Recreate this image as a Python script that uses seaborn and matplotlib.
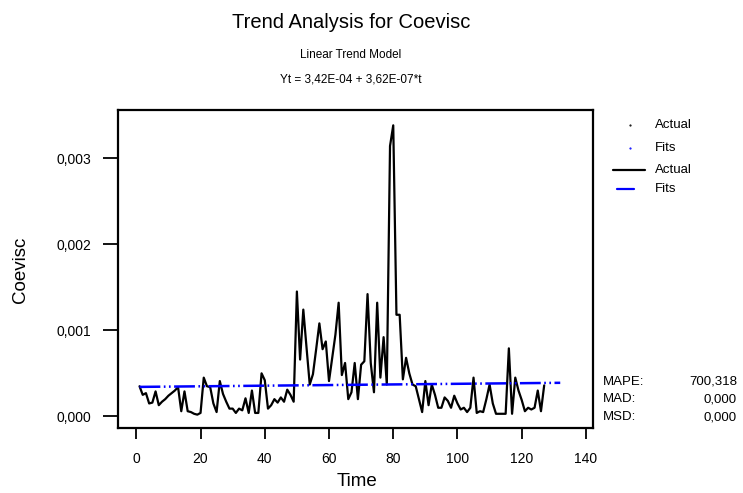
import numpy as np
import pandas as pd
import matplotlib
matplotlib.use("Agg")
import matplotlib.pyplot as plt
from matplotlib.lines import Line2D
import seaborn as sns

# Coevisc observations, in units of 1E-03
coevisc_e3 = [
    0.35, 0.25, 0.27, 0.15, 0.16, 0.29, 0.13, 0.17, 0.20, 0.24,
    0.27, 0.30, 0.34, 0.06, 0.29, 0.06, 0.05, 0.03, 0.02, 0.04,
    0.45, 0.35, 0.34, 0.15, 0.05, 0.41, 0.26, 0.17, 0.09, 0.09,
    0.04, 0.09, 0.07, 0.21, 0.04, 0.30, 0.04, 0.04, 0.50, 0.42,
    0.09, 0.13, 0.20, 0.16, 0.22, 0.17, 0.31, 0.25, 0.17, 1.45,
    0.66, 1.24, 0.80, 0.37, 0.49, 0.78, 1.08, 0.78, 0.87, 0.41,
    0.68, 0.95, 1.32, 0.48, 0.62, 0.20, 0.28, 0.62, 0.20, 0.60,
    0.64, 1.42, 0.62, 0.28, 1.32, 0.45, 0.92, 0.37, 3.14, 3.38,
    1.18, 1.18, 0.43, 0.68, 0.50, 0.37, 0.35, 0.20, 0.05, 0.41,
    0.13, 0.37, 0.25, 0.10, 0.10, 0.22, 0.18, 0.10, 0.24, 0.15,
    0.08, 0.10, 0.05, 0.10, 0.45, 0.04, 0.06, 0.05, 0.20, 0.37,
    0.15, 0.03, 0.03, 0.03, 0.03, 0.79, 0.03, 0.45, 0.30, 0.19,
    0.06, 0.10, 0.08, 0.10, 0.30, 0.06, 0.36,
]

# Linear trend model Yt = b0 + b1*t
intercept = 3.42e-04
slope = 3.62e-07
n_fit = 132

x_ticks = [0, 20, 40, 60, 80, 100, 120, 140]
y_ticks = [0.000, 0.001, 0.002, 0.003]
y_tick_labels = ["0,000", "0,001", "0,002", "0,003"]

legend_labels = ["Actual", "Fits", "Actual", "Fits"]
accuracy_names = ["MAPE:", "MAD:", "MSD:"]
accuracy_values = ["700,318", "0,000", "0,000"]

actual = pd.DataFrame({
    "Time": np.arange(1, len(coevisc_e3) + 1),
    "Coevisc": np.array(coevisc_e3) * 1e-3,
})
t_fit = np.arange(1, n_fit + 1)
fits = pd.DataFrame({"Time": t_fit, "Coevisc": intercept + slope * t_fit})

BLUE = "#0000ff"

sns.set_style("white")
plt.rcParams["font.family"] = ["Liberation Sans", "DejaVu Sans"]
plt.rcParams.update({
    "lines.scale_dashes": False,
    "text.color": "black",
    "axes.labelcolor": "black",
    "xtick.color": "black",
    "ytick.color": "black",
})

W, H = 743, 493
fig = plt.figure(figsize=(W / 100, H / 100), dpi=100)
ax = fig.add_axes([118 / W, 1 - 428 / H, (593 - 118) / W, (428 - 110) / H])

sns.lineplot(data=actual, x="Time", y="Coevisc", ax=ax, color="black",
             linewidth=1.6, estimator=None)
sns.lineplot(data=fits, x="Time", y="Coevisc", ax=ax, color=BLUE,
             linewidth=1.8, estimator=None)
ax.lines[-1].set_dashes((15, 2.5, 1.2, 2.5, 1.2, 2.5))

ax.set_xlim(-5.7, 142.2)
ax.set_ylim(-0.000135, 0.003558)
ax.set_xticks(x_ticks)
ax.set_yticks(y_ticks)
ax.set_yticklabels(y_tick_labels)
ax.tick_params(axis="x", direction="out", length=8, width=1.3, labelsize=10,
               pad=9, bottom=True)
ax.tick_params(axis="y", direction="out", length=11, width=1.3, labelsize=10,
               pad=8, left=True)
for s in ax.spines.values():
    s.set_color("black")
    s.set_linewidth(1.6)

ax.set_xlabel("")
ax.set_ylabel("")
fig.text(357 / W, 1 - 482 / H, "Time", ha="center", va="center", fontsize=13.5)
fig.text(20 / W, 1 - 270 / H, "Coevisc", ha="center", va="center",
         fontsize=13.5, rotation=90)

fig.text(351 / W, 1 - 22 / H, "Trend Analysis for Coevisc", ha="center",
         va="center", fontsize=14.5)
fig.text(351 / W, 1 - 55 / H, "Linear Trend Model", ha="center",
         va="center", fontsize=8.5)
fig.text(351 / W, 1 - 80 / H, "Yt = 3,42E-04 + 3,62E-07*t", ha="center",
         va="center", fontsize=8.5)

# Legend: symbol rows, then line rows
legend_rows = [125, 148, 170, 189]
fig.add_artist(Line2D([630 / W], [1 - legend_rows[0] / H], color="black",
                      marker=".", markersize=1.1, linestyle="none",
                      transform=fig.transFigure))
fig.add_artist(Line2D([630 / W], [1 - legend_rows[1] / H], color=BLUE,
                      marker=".", markersize=1.1, linestyle="none",
                      transform=fig.transFigure))
fig.add_artist(Line2D([613 / W, 645 / W], [1 - legend_rows[2] / H] * 2,
                      color="black", linewidth=1.6, transform=fig.transFigure))
fig.add_artist(Line2D([617 / W, 634 / W], [1 - legend_rows[3] / H] * 2,
                      color=BLUE, linewidth=1.6, transform=fig.transFigure))
for label, row in zip(legend_labels, legend_rows):
    fig.text(655 / W, 1 - row / H, label, ha="left", va="center", fontsize=9.5)

for i, (name, val) in enumerate(zip(accuracy_names, accuracy_values)):
    y = 1 - (382 + 17.5 * i) / H
    fig.text(603 / W, y, name, ha="left", va="center", fontsize=9.5)
    fig.text(737 / W, y, val, ha="right", va="center", fontsize=9.5)

fig.savefig("out.png", dpi=100)
